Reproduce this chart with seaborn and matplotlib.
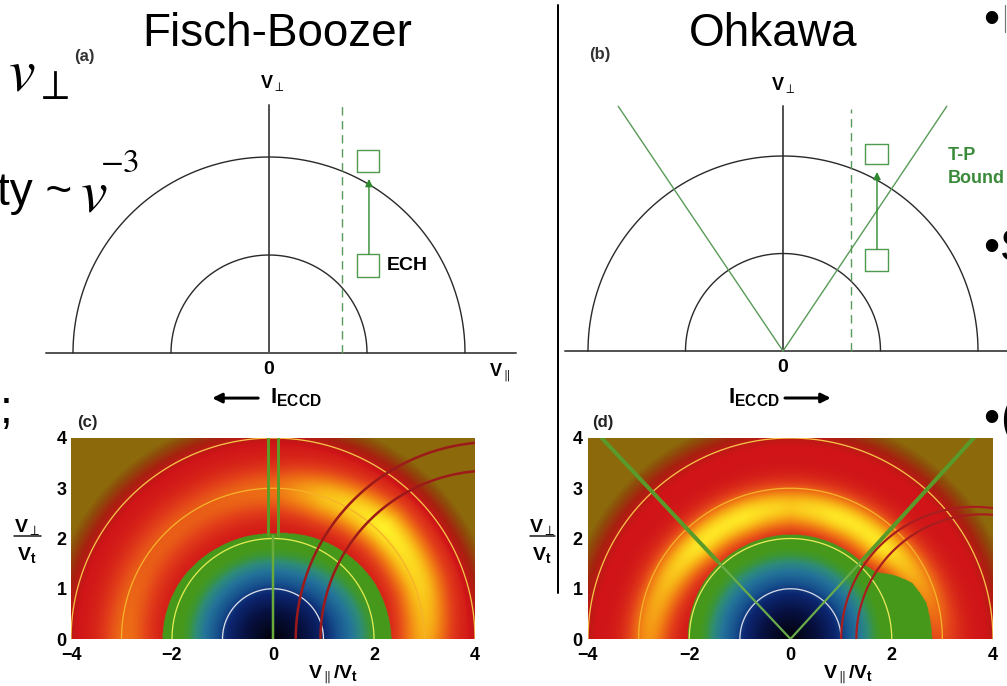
import numpy as np
import matplotlib
matplotlib.use("Agg")
import matplotlib.pyplot as plt
import seaborn as sns
from matplotlib.colors import LinearSegmentedColormap

W, H = 1007, 686

# ------------------------------------------------------------------ data
TITLES = ["Fisch-Boozer", "Ohkawa"]
PANEL_LABELS = ["(a)", "(b)", "(c)", "(d)"]

SEMI_RADII = [1.0, 2.0]                 # schematic energy surfaces

# (a) Fisch-Boozer schematic (units of inner radius)
A_HAXIS = [-2.28, 2.52]
A_VAXIS_TOP = 2.53
A_RES_VPAR = 0.745
A_RES_TOP = 2.53
A_SQ_X = [0.898, 1.122]
A_SQ_LOW_Y = [0.776, 1.010]
A_SQ_HIGH_Y = [1.847, 2.071]
A_ARROW = [1.02, 1.010, 1.776]          # x, from, to

# (b) Ohkawa schematic
B_HAXIS = [-2.24, 2.31]
B_VAXIS_TOP = 2.51
B_TP_END_X = [-1.69, 1.68]
B_TP_END_Y = [2.51, 2.51]
B_RES_VPAR = 0.70
B_RES_TOP = 2.48
B_SQ_X = [0.842, 1.077]
B_SQ_LOW_Y = [0.820, 1.046]
B_SQ_HIGH_Y = [1.918, 2.123]
B_ARROW = [0.964, 1.046, 1.836]

# (c),(d) distribution maps
HM_X_TICKS = [-4, -2, 0, 2, 4]
HM_Y_TICKS = [0, 1, 2, 3, 4]
HM_CIRCLE_R = [1, 2, 3, 4]
C_CIRCLE_COLORS = ["#dcdee8", "#e2ec52", "#f6b22a", "#f8c24a"]
D_CIRCLE_COLORS = ["#d6d8e6", "#e8e85a", "#f6b22a", "#f8c24a"]

C_EDGE_ANG = [0, 30, 60, 90, 120, 150, 180]
C_EDGE_R = [2.35, 2.30, 2.20, 2.10, 2.12, 2.17, 2.19]
C_CORE_STRETCH = 0.15
C_BAND_ANG = [0, 20, 45, 70, 90, 120, 150, 180]
C_BAND_AMP = [0.70, 0.85, 1.00, 0.78, 0.45, 0.38, 0.38, 0.45]
C_BAND_PEAK = [3.00, 3.10, 3.12, 3.00, 2.95, 2.90, 2.90, 2.90]
C_BAND_WIDTH = 0.52
C_TP_X = [-0.10, 0.10]
C_TP_Y = [2.05, 4.0]
C_MID_LINE_Y = [0.0, 2.05]
C_ARC_CX = [4.37, 4.29]
C_ARC_R = [3.92, 3.35]

D_EDGE_ANG = [0, 15, 25, 32, 38, 45, 90, 180]
D_EDGE_R = [2.80, 2.78, 2.65, 2.40, 2.15, 2.08, 2.08, 2.03]
D_CORE_STRETCH = 0.0
D_BAND_ANG = [0, 20, 45, 70, 90, 110, 135, 160, 180]
D_BAND_AMP = [0.30, 0.60, 0.95, 0.95, 0.82, 0.95, 0.95, 0.72, 0.60]
D_BAND_PEAK = [2.95, 2.80, 2.60, 2.60, 2.62, 2.60, 2.60, 2.70, 2.80]
D_BAND_WIDTH = 0.44
D_TP_END_X = [-3.73, 3.62]
D_TP_END_Y = [4.0, 4.0]
D_TP_INNER_R = 2.1
D_ARC_CX = [3.63, 3.78]
D_ARC_R = [2.63, 2.48]

FADE_START, FADE_WIDTH = 3.85, 0.65

CMAP_POS = [0.0, 0.114, 0.19, 0.236, 0.285, 0.323, 0.353, 0.38,
            0.42, 0.46, 0.52, 0.60, 0.70, 0.80, 0.90, 1.0]
CMAP_COL = ["#020208", "#07103f", "#0c2670", "#17528e", "#24749a", "#2e8c78",
            "#3c9636", "#46991c", "#8c6a0c", "#8e4c0a", "#a82010", "#d01418",
            "#e2401a", "#f07a14", "#f8b818", "#fff028"]

# ------------------------------------------------------------------ style
sns.set_theme(style="white")
plt.rcParams['font.family'] = ['Liberation Sans', 'DejaVu Sans']
plt.rcParams['text.color'] = 'black'
plt.rcParams['xtick.color'] = 'black'
plt.rcParams['ytick.color'] = 'black'
plt.rcParams['mathtext.fontset'] = 'custom'
plt.rcParams['mathtext.rm'] = 'Liberation Sans'
plt.rcParams['mathtext.it'] = 'Liberation Sans:italic'
plt.rcParams['mathtext.bf'] = 'Liberation Sans:bold'
plt.rcParams['mathtext.fallback'] = 'stixsans'

fig = plt.figure(figsize=(W / 100, H / 100), dpi=100)
fig.patch.set_facecolor('white')
PX = 0.72  # points per pixel


def px_axes(x0, y0, x1, y1, zorder=1):
    return fig.add_axes([x0 / W, 1 - y1 / H, (x1 - x0) / W, (y1 - y0) / H], zorder=zorder)


def line(ax, x, y, **kw):
    sns.lineplot(x=np.asarray(x, float), y=np.asarray(y, float), ax=ax,
                 sort=False, estimator=None, legend=False, **kw)


def semicircle(ax, r, cx=0.0, n=300, **kw):
    th = np.linspace(0, np.pi, n)
    line(ax, cx + r * np.cos(th), r * np.sin(th), **kw)


def square(ax, xs, ys, **kw):
    line(ax, [xs[0], xs[1], xs[1], xs[0], xs[0]],
         [ys[0], ys[0], ys[1], ys[1], ys[0]], **kw)


GREEN = "#4f9a4f"
AXC = "#555555"
CIRC = "#2a2a2a"


def schematic(box, center, unit, haxis, vtop, res_x, res_top, sq_x, sq_lo, sq_hi, arrow):
    ax = px_axes(*box)
    ax.set_axis_off()
    line(ax, haxis, [0, 0], color=AXC, linewidth=2 * PX)
    line(ax, [0, 0], [0, vtop], color=AXC, linewidth=2 * PX)
    for r in SEMI_RADII:
        semicircle(ax, r, color=CIRC, linewidth=1.4 * PX)
    line(ax, [res_x, res_x], [0, res_top], color="#5a9a5a", linewidth=1.4 * PX, linestyle=(0, (6, 4)))
    square(ax, sq_x, sq_lo, color=GREEN, linewidth=1.4 * PX)
    square(ax, sq_x, sq_hi, color=GREEN, linewidth=1.4 * PX)
    ax.annotate('', xy=(arrow[0], arrow[2]), xytext=(arrow[0], arrow[1]),
                arrowprops=dict(arrowstyle='-|>', color="#2f8a2f", lw=1.4 * PX,
                                mutation_scale=11, shrinkA=0, shrinkB=0))
    x0, y0, x1, y1 = box
    cx, cy = center
    return ax, ((x0 - cx) / unit, (x1 - cx) / unit), ((cy - y1) / unit, (cy - y0) / unit)


# ---------------- (a)
axA, xlA, ylA = schematic((30, 60, 540, 420), (269, 353), 98.0, A_HAXIS, A_VAXIS_TOP,
                          A_RES_VPAR, A_RES_TOP, A_SQ_X, A_SQ_LOW_Y, A_SQ_HIGH_Y, A_ARROW)
axA.text(0.03, 2.755, r"$\mathbf{V}_{\perp}$", ha='center', va='center', fontsize=13)
axA.text(0, -0.165, "0", ha='center', va='center', fontsize=14, fontweight='bold')
axA.text(2.357, -0.2, r"$\mathbf{V}_{\parallel}$", ha='center', va='center', fontsize=13)
axA.text(1.204, 0.888, "ECH", ha='left', va='center', fontsize=14, fontweight='bold')
axA.text(0.01, -0.46, r"$\mathbf{I}_{\mathbf{ECCD}}$", ha='left', va='center', fontsize=16)
axA.annotate('', xy=(-0.58, -0.46), xytext=(-0.11, -0.46),
             arrowprops=dict(arrowstyle='-|>', color='black', lw=3 * PX,
                             mutation_scale=14, shrinkA=0, shrinkB=0))
axA.set_xlim(*xlA)
axA.set_ylim(*ylA)

# ---------------- (b)
axB, xlB, ylB = schematic((560, 60, 1007, 420), (783, 351), 97.5, B_HAXIS, B_VAXIS_TOP,
                          B_RES_VPAR, B_RES_TOP, B_SQ_X, B_SQ_LOW_Y, B_SQ_HIGH_Y, B_ARROW)
for ex, ey in zip(B_TP_END_X, B_TP_END_Y):
    line(axB, [0, ex], [0, ey], color="#5a9a5a", linewidth=1.4 * PX)
axB.text(0, 2.728, r"$\mathbf{V}_{\perp}$", ha='center', va='center', fontsize=13)
axB.text(0, -0.174, "0", ha='center', va='center', fontsize=14, fontweight='bold')
axB.text(-0.03, -0.482, r"$\mathbf{I}_{\mathbf{ECCD}}$", ha='right', va='center', fontsize=16)
axB.annotate('', xy=(0.49, -0.482), xytext=(0.02, -0.482),
             arrowprops=dict(arrowstyle='-|>', color='black', lw=3 * PX,
                             mutation_scale=14, shrinkA=0, shrinkB=0))
axB.text(1.692, 1.959, "T-P", ha='left', va='baseline', fontsize=13,
         fontweight='bold', color="#3a8a3a")
axB.text(1.692, 1.723, "Bound", ha='left', va='baseline', fontsize=13,
         fontweight='bold', color="#3a8a3a")
axB.set_xlim(*xlB)
axB.set_ylim(*ylB)

# ---------------- heat maps
cmap = LinearSegmentedColormap.from_list("fe", list(zip(CMAP_POS, CMAP_COL)), N=1024)
xs = np.linspace(-4, 4, 640)
ys = np.linspace(0, 4, 320)
X, Y = np.meshgrid(xs, ys)
R = np.hypot(X, Y)
TH = np.degrees(np.arctan2(Y, X))


def dist_field(edge_ang, edge_r, stretch, band_ang, band_amp, band_peak, band_w):
    r_edge = np.interp(TH, edge_ang, edge_r)
    xs_core = np.where(X > 0, X / (1 + stretch), X)
    rc = np.hypot(xs_core, Y)
    t_in = 0.38 * np.clip(rc / 1.8, 0, 1)
    amp = np.interp(TH, band_ang, band_amp)
    rp = np.interp(TH, band_ang, band_peak)
    t_out = (0.6 + 0.4 * amp * np.exp(-((R - rp) / band_w) ** 2)
             - 0.18 * np.clip((R - FADE_START) / FADE_WIDTH, 0, 1))
    return np.where(R < r_edge, t_in, t_out)


def heat_axes(box, field, circle_colors):
    ax = px_axes(*box, zorder=2)
    ax.imshow(field, extent=(-4, 4, 0, 4), origin='lower', cmap=cmap, vmin=0, vmax=1,
              aspect='auto', interpolation='bilinear', interpolation_stage='rgba')
    for r, c in zip(HM_CIRCLE_R, circle_colors):
        semicircle(ax, r, color=c, linewidth=1.3 * PX)
    return ax


def finish_heat(ax, ypad):
    ax.set_xlim(-4, 4)
    ax.set_ylim(0, 4)
    for s in ax.spines.values():
        s.set_visible(False)
    ax.set_xticks(HM_X_TICKS)
    ax.set_xticklabels([str(v).replace('-', '\u2212') for v in HM_X_TICKS],
                       fontweight='bold', fontsize=13, color='black')
    ax.set_yticks(HM_Y_TICKS)
    ax.set_yticklabels([str(v) for v in HM_Y_TICKS], fontweight='bold', fontsize=13,
                       color='black')
    ax.tick_params(axis='x', length=0, pad=6)
    ax.tick_params(axis='y', length=0, pad=ypad)
    ax.set_xlabel('')
    ax.set_ylabel('')


FC = dist_field(C_EDGE_ANG, C_EDGE_R, C_CORE_STRETCH, C_BAND_ANG, C_BAND_AMP,
                C_BAND_PEAK, C_BAND_WIDTH)
axC = heat_axes((71, 438, 475, 639), FC, C_CIRCLE_COLORS)
for xv in C_TP_X:
    line(axC, [xv, xv], C_TP_Y, color="#5c9c26", linewidth=3 * PX)
line(axC, [0, 0], C_MID_LINE_Y, color="#6aac3a", linewidth=2.5 * PX)
for cx, r in zip(C_ARC_CX, C_ARC_R):
    semicircle(axC, r, cx=cx, color="#9c1a1a", linewidth=2.5 * PX)
finish_heat(axC, 3)

FD = dist_field(D_EDGE_ANG, D_EDGE_R, D_CORE_STRETCH, D_BAND_ANG, D_BAND_AMP,
                D_BAND_PEAK, D_BAND_WIDTH)
axD = heat_axes((588, 438, 993, 639), FD, D_CIRCLE_COLORS)
for ex, ey in zip(D_TP_END_X, D_TP_END_Y):
    L = np.hypot(ex, ey)
    fx, fy = ex / L * D_TP_INNER_R, ey / L * D_TP_INNER_R
    line(axD, [0, fx], [0, fy], color="#6aac4a", linewidth=2.2 * PX)
    line(axD, [fx, ex], [fy, ey], color="#5a9a2a", linewidth=4 * PX)
for cx, r in zip(D_ARC_CX, D_ARC_R):
    semicircle(axD, r, cx=cx, color="#a81e1e", linewidth=2.2 * PX)
finish_heat(axD, 4)

# ---------------- overlay texts (pixel coordinates)
top = px_axes(0, 0, W, H, zorder=10)
top.set_xlim(0, W)
top.set_ylim(H, 0)
top.set_axis_off()

top.text(277, 46, TITLES[0], ha='center', va='baseline', fontsize=33, color='black')
top.text(773, 46, TITLES[1], ha='center', va='baseline', fontsize=33, color='black')

top.text(84, 57, PANEL_LABELS[0], ha='center', va='center', fontsize=12, fontweight='bold', color='#333')
top.text(600, 55, PANEL_LABELS[1], ha='center', va='center', fontsize=12, fontweight='bold', color='#333')
top.text(87, 423, PANEL_LABELS[2], ha='center', va='center', fontsize=12, fontweight='bold', color='#222')
top.text(603, 423, PANEL_LABELS[3], ha='center', va='center', fontsize=12, fontweight='bold', color='#222')

# fraction y-labels and x-labels of the maps
for xc, x0, x1 in [(27, 14, 41), (542, 530, 555)]:
    top.text(xc, 532, r"$\mathbf{V}_{\perp}$", ha='center', va='baseline', fontsize=14)
    top.plot([x0, x1], [536, 536], color='#222', lw=1.6 * PX)
    top.text(xc, 560, r"$\mathbf{V}_{\mathbf{t}}$", ha='center', va='baseline', fontsize=14)
for xc in [333, 848]:
    top.text(xc, 678, r"$\mathbf{V}_{\parallel}\mathbf{/V}_{\mathbf{t}}$", ha='center',
             va='baseline', fontsize=14)

# separator
top.plot([558, 558], [5, 593], color='black', lw=2 * PX)

# left slide text fragments
top.text(8, 92, r"$v_{\perp}$", fontsize=43, math_fontfamily='stix', va='baseline', ha='left')
top.text(-3, 205, "ty ~", fontsize=33, va='baseline', ha='left')
top.text(80, 212, r"$v$", fontsize=43, math_fontfamily='stix', va='baseline', ha='left')
top.text(100, 172, r"$-3$", fontsize=24, math_fontfamily='stix', va='baseline', ha='left')
top.text(0, 423, ";", fontsize=33, va='baseline', ha='left')

# right slide bullets
for yb, frag in [(33, None), (261, "S"), (432, "(")]:
    top.text(983, yb, "\u2022", fontsize=33, va='baseline', ha='left')
    if frag:
        top.text(1000, yb, frag, fontsize=33, va='baseline', ha='left')
top.plot([1005, 1005], [5, 32], color='#777', lw=1.2 * PX)

fig.savefig("out.png", dpi=100, facecolor='white')
